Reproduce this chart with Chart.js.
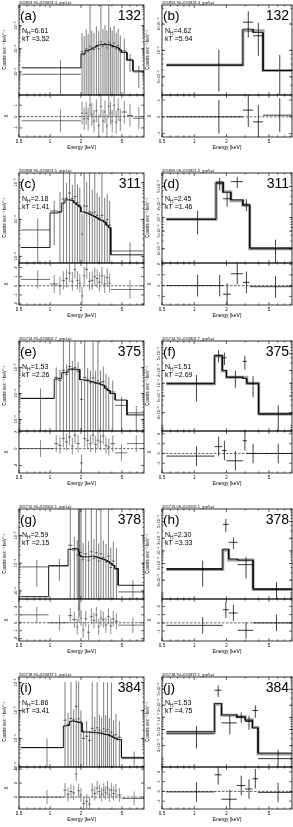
<!DOCTYPE html>
<html><head><meta charset="utf-8">
<script src="https://cdn.jsdelivr.net/npm/chart.js@4/dist/chart.umd.min.js"></script>
<style>
html,body{margin:0;padding:0;background:#fff;}
body{width:293px;height:827px;position:relative;overflow:hidden;}
canvas{position:absolute;}
</style></head><body>
<script>
// ---------- shared axis data ----------
const xTickValues = [0.5, 1, 2, 5];
const xTickLabels = ['0.5', '1', '2', '5'];
const xMinorValues = [0.6, 0.7, 0.8, 0.9, 3, 4, 6, 7, 8];

const panelLetters = ['(a)','(b)','(c)','(d)','(e)','(f)','(g)','(h)','(i)','(j)'];
const sourceIds   = ['132','132','311','311','375','375','378','378','384','384'];
const nhValues    = ['6.61','4.62','2.18','2.45','1.53','1.51','2.59','2.30','1.86','1.53'];
const ktValues    = ['3.52','5.94','1.41','1.46','2.26','2.69','2.15','3.33','3.41','4.75'];
const fileNames   = ['205853.30+620824.4_grp1.pi','205853.30+620824.4_grp5.pi',
                     '205858.96+620821.5_grp1.pi','205859.08+620821.5_grp5.pi',
                     '205714.93+620802.7_grp1.pi','205714.92+620802.7_grp5.pi',
                     '205715.30+620505.1_grp1.pi','205715.08+620505.1_grp5.pi',
                     '205718.94+620837.1_grp1.pi','205718.94+620837.1_grp5.pi'];

// ---------- (a) pn, 132 ----------
const aEdges = [0.53, 2.0, 2.1, 2.2, 2.3, 2.4, 2.5, 2.6, 2.75, 2.9, 3.05, 3.2, 3.35, 3.5, 3.65, 3.8, 3.95, 4.1, 4.3, 4.5, 4.7, 4.95, 5.6, 6.4, 8.2];
const aRate  = [7.9e-6, 7.5e-5, 5.5e-5, 1.0e-4, 7.5e-5, 1.3e-4, 1.1e-4, 9e-5, 1.4e-4, 1.0e-4, 2.0e-4, 1.3e-4, 1.7e-4, 1.1e-4, 1.9e-4, 1.6e-4, 1.2e-4, 1.8e-4, 1.0e-4, 1.4e-4, 8e-5, 8e-5, 3.5e-5, 1.0e-5];
const aErr   = [2.4e-5, 4e-4, 3e-4, 6e-4, 3.5e-4, 1e-2, 5e-4, 4e-4, 8e-4, 5e-4, 1e-2, 6e-4, 9e-4, 5e-4, 1e-2, 7e-4, 5e-4, 8e-4, 4e-4, 6e-4, 3e-4, 2e-4, 2.5e-5, 8e-6];
const aModel = [1.5e-5, 6.0e-5, 6.2e-5, 8.5e-5, 8.7e-5, 9.2e-5, 1.0e-4, 1.1e-4, 1.25e-4, 1.45e-4, 1.5e-4, 1.55e-4, 1.55e-4, 1.5e-4, 1.5e-4, 1.45e-4, 1.4e-4, 1.25e-4, 1.2e-4, 1.1e-4, 9.0e-5, 7.0e-5, 3.2e-5, 1.1e-5];
const aChi   = [-0.37, 0.3, -0.2, 0.3, -0.2, 1.0, 0.2, -0.4, 0.5, -0.8, 0.9, -0.4, 0.4, -0.8, 0.9, 0.3, -0.4, 1.0, -0.5, 0.6, -0.3, 0.4, 0.1, -0.15];
const aYTicks = [1e-5, 1e-4, 1e-3];
const aRTicks = [-1, 0, 1];

// ---------- (b) MOS, 132 ----------
const bEdges  = [0.55, 2.85, 3.55, 4.4, 8.2];
const bRate   = [6.8e-5, 2.1e-4, 1.47e-4, 5.9e-5];
const bErr    = [3.4e-5, 7e-5, 6e-5, 3e-5];
const bModel1 = [6.8e-5, 1.68e-4, 1.68e-4, 5.9e-5];
const bModel2 = [6.8e-5, 1.75e-4, 1.6e-4, 5.9e-5];
const bChi    = [0.0, 0.4, -0.3, 0.1];
const bYTicks = [5e-5, 1e-4, 2e-4];
const bRTicks = [-1, 0, 1];

// ---------- (c) pn, 311 ----------
const cEdges = [0.52, 1.0, 1.2, 1.3, 1.4, 1.5, 1.6, 1.7, 1.8, 1.9, 2.0, 2.1, 2.2, 2.35, 2.5, 2.65, 2.8, 2.95, 3.1, 3.3, 3.5, 3.7, 3.9, 8.1];
const cRate  = [5.2e-5, 1.7e-4, 1.6e-4, 3.6e-4, 3.8e-4, 5.2e-4, 3.7e-4, 4.2e-4, 2.9e-4, 2.4e-4, 4.0e-5, 2.3e-4, 2.3e-4, 1.6e-4, 1.5e-4, 1.6e-4, 1.3e-4, 1.1e-4, 1.3e-4, 9e-5, 1.0e-4, 7e-5, 1.4e-5];
const cErr   = [5.5e-5, 1.5e-4, 4e-4, 1e-2, 6e-4, 1e-2, 5e-4, 1e-2, 6e-4, 5e-4, 1e-4, 1e-2, 8e-4, 1e-2, 5e-4, 1e-2, 4e-4, 3e-4, 1e-2, 3e-4, 4e-4, 2.5e-4, 1e-5];
const cModel = [1.74e-5, 1.5e-4, 1.6e-4, 2.8e-4, 3.4e-4, 3.4e-4, 3.3e-4, 2.8e-4, 2.5e-4, 2.2e-4, 1.6e-4, 1.6e-4, 1.5e-4, 1.4e-4, 1.3e-4, 1.2e-4, 1.1e-4, 1.0e-4, 9.5e-5, 8.5e-5, 7e-5, 6e-5, 1.1e-5];
const cChi   = [0.7, 0.2, 0.0, 0.6, 0.8, 1.4, 0.5, 1.8, 0.6, 0.3, -1.1, 1.1, 1.8, 0.5, 0.6, 1.0, 0.8, 0.4, 1.1, 0.2, 0.9, 0.3, -0.4];
const cYTicks = [1e-5, 1e-4, 1e-3];
const cRTicks = [-2, -1, 0, 1, 2];

// ---------- (d) MOS, 311 ----------
const dEdges  = [0.55, 1.6, 1.86, 2.2, 2.85, 3.3, 8.2];
const dRate   = [9.2e-5, 5.9e-4, 2.65e-4, 6.4e-4, 2.0e-4, 2.0e-5];
const dErr    = [5e-5, 1.8e-4, 9e-5, 1.8e-4, 6e-5, 1.2e-5];
const dModel1 = [9.2e-5, 5.9e-4, 3.8e-4, 2.4e-4, 1.86e-4, 2.0e-5];
const dModel2 = [9.2e-5, 6.3e-4, 3.7e-4, 2.5e-4, 1.9e-4, 2.1e-5];
const dChi    = [0.0, 0.0, -0.8, 1.1, 0.3, -0.1];
const dYTicks = [2e-5, 5e-5, 1e-4, 2e-4, 5e-4];
const dRTicks = [-1, 0, 1, 2];

// ---------- (e) pn, 375 ----------
const eEdges = [0.52, 1.1, 1.2, 1.3, 1.4, 1.5, 1.6, 1.7, 1.8, 1.95, 2.1, 2.25, 2.4, 2.55, 2.7, 2.85, 3.0, 3.2, 3.4, 3.6, 3.85, 4.3, 5.6, 8.2];
const eRate  = [6.5e-5, 4.2e-4, 3.2e-4, 7.8e-4, 5.5e-4, 1.1e-3, 8.2e-4, 1.0e-3, 7.2e-4, 6e-5, 4.2e-4, 3.6e-4, 2.6e-4, 4.0e-4, 2.4e-4, 3.1e-4, 2.7e-4, 2.9e-4, 1.8e-4, 1.35e-4, 1.15e-4, 3.5e-5, 1.8e-5];
const eErr   = [9e-5, 6e-4, 5e-4, 1e-2, 8e-4, 1e-2, 1e-3, 1e-2, 9e-4, 2.5e-4, 1e-2, 6e-4, 5e-4, 1e-2, 5e-4, 1e-2, 5e-4, 8e-4, 4e-4, 3e-4, 2e-4, 4e-5, 1.5e-5];
const eModel = [6.5e-5, 3.6e-4, 3.8e-4, 6.4e-4, 6.6e-4, 8.7e-4, 8.9e-4, 8.7e-4, 8.5e-4, 3.4e-4, 3.3e-4, 3.1e-4, 3.0e-4, 2.8e-4, 2.6e-4, 2.5e-4, 2.3e-4, 2.1e-4, 1.6e-4, 1.3e-4, 1.0e-4, 5.6e-5, 1.5e-5];
const eChi   = [0.0, 0.6, 0.4, 1.2, 0.8, 1.4, 0.3, 1.6, 0.6, -1.7, 1.2, 1.0, 0.6, 1.6, 0.5, 1.0, 0.8, 1.5, 0.4, 0.2, 0.6, -0.5, 0.6];
const eYTicks = [1e-5, 1e-4, 1e-3];
const eRTicks = [-2, 0, 2];

// ---------- (f) MOS, 375 ----------
const fEdges  = [0.55, 1.55, 1.83, 2.0, 2.85, 3.1, 4.0, 8.2];
const fRate   = [9.7e-5, 4.6e-4, 4.0e-4, 1.38e-4, 3.3e-4, 9.7e-5, 1.8e-5];
const fErr    = [6e-5, 1.5e-4, 1.3e-4, 6e-5, 1.2e-4, 5e-5, 1.2e-5];
const fModel1 = [9.7e-5, 4.35e-4, 1.96e-4, 1.38e-4, 1.38e-4, 1.0e-4, 1.9e-5];
const fModel2 = [1.0e-4, 4.5e-4, 2.0e-4, 1.4e-4, 1.3e-4, 1.0e-4, 1.9e-5];
const fChi    = [-0.27, 0.7, 0.3, -0.75, 1.3, 0.0, 0.0];
const fYTicks = [2e-5, 5e-5, 1e-4, 2e-4, 5e-4];
const fRTicks = [-1, 0, 1, 2];

// ---------- (g) pn, 378 ----------
const gEdges = [0.52, 0.97, 1.5, 1.65, 1.8, 1.88, 1.9, 1.92, 1.94, 1.96, 2.05, 2.15, 2.3, 2.45, 2.6, 2.75, 2.9, 3.05, 3.2, 3.4, 3.6, 3.8, 4.0, 4.25, 4.6, 8.2];
const gRate  = [7.4e-5, 8.3e-5, 4.5e-4, 3.0e-4, 2.0e-4, 6e-4, 1.2e-4, 8e-4, 3e-4, 2.5e-4, 1.4e-4, 2.2e-4, 1.3e-4, 2.6e-4, 1.5e-4, 2.4e-4, 1.2e-4, 2.2e-4, 1.6e-4, 1.1e-4, 1.8e-4, 7e-5, 1.2e-4, 6e-5, 9.2e-6];
const gErr   = [6e-5, 6e-5, 1e-2, 6e-4, 5e-4, 1e-2, 1e-2, 1e-2, 1e-2, 1e-2, 4e-4, 1e-2, 5e-4, 1e-2, 6e-4, 1e-2, 4e-4, 1e-2, 5e-4, 4e-4, 1e-2, 3e-4, 5e-4, 3e-4, 1.5e-5];
const gModel = [6.2e-6, 8e-5, 3.2e-4, 3.4e-4, 3.3e-4, 3.0e-4, 2.6e-4, 2.3e-4, 2.0e-4, 1.8e-4, 1.7e-4, 1.7e-4, 1.7e-4, 1.8e-4, 1.8e-4, 1.7e-4, 1.6e-4, 1.5e-4, 1.4e-4, 1.3e-4, 1.15e-4, 1.0e-4, 8.5e-5, 6.5e-5, 1.6e-5];
const gChi   = [1.0, 0.0, 0.9, 0.4, -0.5, 2.5, 1.0, 2.8, 1.8, 0.6, -0.9, 0.5, -1.2, 0.8, 0.3, 1.0, -0.5, 0.6, 0.4, -0.3, 0.8, -0.4, 0.5, 0.2, -0.3];
const gYTicks = [1e-5, 1e-4, 1e-3];
const gRTicks = [-2, -1, 0, 1, 2];

// ---------- (h) MOS, 378 ----------
const hEdges  = [0.55, 1.85, 2.1, 2.55, 3.55, 8.2];
const hRate   = [3.6e-5, 4.3e-4, 1.6e-4, 4.7e-5, 1.2e-5];
const hErr    = [2.2e-5, 1.5e-4, 5e-5, 2.5e-5, 6e-6];
const hModel1 = [3.6e-5, 1.04e-4, 6.1e-5, 6.1e-5, 1.2e-5];
const hModel2 = [3.8e-5, 1.1e-4, 6.4e-5, 6.0e-5, 1.25e-5];
const hChi    = [-0.3, 1.6, 1.2, -0.9, 0.0];
const hYTicks = [2e-5, 5e-5, 1e-4, 2e-4, 5e-4];
const hRTicks = [-1, 0, 1, 2];

// ---------- (i) pn, 384 ----------
const iEdges = [0.52, 1.35, 1.45, 1.55, 1.65, 1.75, 1.85, 1.95, 2.05, 2.2, 2.35, 2.5, 2.65, 2.8, 2.95, 3.1, 3.25, 3.4, 3.55, 3.7, 3.85, 4.05, 4.25, 4.5, 4.95, 8.2];
const iRate  = [4.7e-5, 4.5e-4, 3.2e-4, 5.2e-4, 4.6e-4, 1.4e-3, 5.0e-4, 4.0e-4, 1.0e-4, 1.2e-4, 8.5e-5, 2.3e-4, 1.9e-4, 2.4e-4, 2.0e-4, 1.7e-4, 2.2e-4, 1.8e-4, 2.1e-4, 1.4e-4, 1.7e-4, 1.3e-4, 1.4e-4, 1.1e-4, 1.9e-5];
const iErr   = [5.3e-5, 1e-2, 5e-4, 1e-2, 6e-4, 1e-2, 1e-2, 6e-4, 1e-4, 3e-4, 1e-4, 1e-2, 4e-4, 1e-2, 5e-4, 4e-4, 1e-2, 5e-4, 1e-2, 4e-4, 1e-2, 3e-4, 6e-4, 3e-4, 1.5e-5];
const iModel = [4.7e-5, 2.8e-4, 2.9e-4, 4.1e-4, 4.2e-4, 4.0e-4, 3.8e-4, 3.6e-4, 1.7e-4, 1.7e-4, 1.7e-4, 1.65e-4, 1.6e-4, 1.6e-4, 1.55e-4, 1.5e-4, 1.45e-4, 1.4e-4, 1.35e-4, 1.3e-4, 1.2e-4, 1.1e-4, 1.0e-4, 9e-5, 2.1e-5];
const iChi   = [0.0, 1.0, 0.4, 0.8, 0.6, 3.3, 0.9, 0.3, -0.9, -0.6, -1.0, 1.0, 0.5, 1.3, 0.8, 0.4, 1.0, 0.6, 1.3, 0.3, 1.0, 0.5, 0.9, 0.3, -0.2];
const iYTicks = [1e-5, 1e-4, 1e-3, 1e-2];
const iRTicks = [0, 2, 4];

// ---------- (j) MOS, 384 ----------
const jEdges  = [0.55, 1.55, 1.8, 2.5, 3.0, 3.5, 3.95, 8.2];
const jRate   = [3.9e-5, 4.7e-4, 7.3e-5, 1.04e-4, 7.9e-5, 1.48e-4, 9.5e-6];
const jErr    = [2.2e-5, 1.5e-4, 3.5e-5, 3e-5, 3e-5, 5e-5, 6e-6];
const jModel1 = [4.3e-5, 2.1e-4, 1.13e-4, 1.04e-4, 8.7e-5, 5.6e-5, 1.24e-5];
const jModel2 = [4.4e-5, 2.2e-4, 1.15e-4, 1.0e-4, 8.5e-5, 5.5e-5, 1.3e-5];
const jChi    = [-0.05, 1.7, -0.8, 0.6, 0.25, 1.3, -0.1];
const jYTicks = [2e-5, 5e-5, 1e-4, 2e-4, 5e-4];
const jRTicks = [-1, 0, 1, 2];

// ---------- panel table (axis ranges per panel) ----------
const panels = [
  {edges:aEdges, rate:aRate, err:aErr, model:aModel, chi:aChi, yMin:1.0e-6, yMax:7.9e-3, yTicks:aYTicks, rMin:-1.8, rMax:1.9, rTicks:aRTicks},
  {edges:bEdges, rate:bRate, err:bErr, model:bModel1, model2:bModel2, chi:bChi, yMin:3.1e-5, yMax:3.3e-4, yTicks:bYTicks, rMin:-1.2, rMax:1.3, rTicks:bRTicks},
  {edges:cEdges, rate:cRate, err:cErr, model:cModel, chi:cChi, yMin:6.6e-6, yMax:1.82e-3, yTicks:cYTicks, rMin:-2.1, rMax:2.5, rTicks:cRTicks},
  {edges:dEdges, rate:dRate, err:dErr, model:dModel1, model2:dModel2, chi:dChi, yMin:9.6e-6, yMax:1.0e-3, yTicks:dYTicks, rMin:-1.8, rMax:2.1, rTicks:dRTicks},
  {edges:eEdges, rate:eRate, err:eErr, model:eModel, chi:eChi, yMin:3.6e-6, yMax:1.06e-2, yTicks:eYTicks, rMin:-2.9, rMax:2.1, rTicks:eRTicks},
  {edges:fEdges, rate:fRate, err:fErr, model:fModel1, model2:fModel2, chi:fChi, yMin:7.4e-6, yMax:1.0e-3, yTicks:fYTicks, rMin:-2.0, rMax:2.3, rTicks:fRTicks},
  {edges:gEdges, rate:gRate, err:gErr, model:gModel, chi:gChi, yMin:5.1e-6, yMax:9.2e-3, yTicks:gYTicks, rMin:-2.3, rMax:3.0, rTicks:gRTicks},
  {edges:hEdges, rate:hRate, err:hErr, model:hModel1, model2:hModel2, chi:hChi, yMin:7.1e-6, yMax:1.0e-3, yTicks:hYTicks, rMin:-2.2, rMax:2.9, rTicks:hRTicks},
  {edges:iEdges, rate:iRate, err:iErr, model:iModel, chi:iChi, yMin:9.5e-6, yMax:1.58e-2, yTicks:iYTicks, rMin:-1.7, rMax:4.3, rTicks:iRTicks},
  {edges:jEdges, rate:jRate, err:jErr, model:jModel1, model2:jModel2, chi:jChi, yMin:5.9e-6, yMax:1.0e-3, yTicks:jYTicks, rMin:-1.8, rMax:2.5, rTicks:jRTicks}
];

// ---------- helpers ----------
const FONT = "'Liberation Sans', Arial, 'DejaVu Sans', sans-serif";
const X_MIN = 0.5, X_MAX = 8.2;
Chart.defaults.font.family = FONT;
Chart.defaults.color = '#000';

const SUP = {'-':'⁻','0':'⁰','1':'¹','2':'²','3':'³','4':'⁴','5':'⁵','6':'⁶','7':'⁷','8':'⁸','9':'⁹'};
function fmtPow(v) {
  const e = Math.floor(Math.log10(v) + 1e-9);
  const m = Math.round(v / Math.pow(10, e));
  const ex = String(e).split('').map(ch => SUP[ch]).join('');
  return (m === 1 ? '' : m + '×') + '10' + ex;
}
function stepPts(edges, vals) {
  const p = [];
  vals.forEach((v, i) => { p.push({x: edges[i], y: v}, {x: edges[i + 1], y: v}); });
  return p;
}
function hPts(edges, vals) {
  const p = [];
  vals.forEach((v, i) => { p.push({x: edges[i], y: v}, {x: edges[i + 1], y: v}, {x: edges[i + 1], y: null}); });
  return p;
}
function vPts(centers, vals, errs, lo, hi) {
  const p = [];
  vals.forEach((v, i) => {
    const a = Math.max(v - errs[i], lo), b = Math.min(v + errs[i], hi);
    p.push({x: centers[i], y: a}, {x: centers[i], y: b}, {x: centers[i], y: null});
  });
  return p;
}
function ds(data, axis, color, width, dash) {
  return {data, yAxisID: axis, borderColor: color, borderWidth: width, borderDash: dash || [],
          pointRadius: 0, fill: false, tension: 0, spanGaps: false};
}

function overlay(P, idx) {
  return {
    id: 'overlay' + idx,
    afterDraw(chart) {
      const c = chart.ctx, ca = chart.chartArea, xs = chart.scales.x, ys = chart.scales.y, rs = chart.scales.yr;
      c.save();
      c.strokeStyle = '#000';
      c.lineWidth = 0.8;
      for (const s of [ys, rs]) c.strokeRect(ca.left, s.top, ca.right - ca.left, s.bottom - s.top);
      c.lineWidth = 0.6;
      c.beginPath();
      const tk = (x1, y1, x2, y2) => { c.moveTo(x1, y1); c.lineTo(x2, y2); };
      for (const s of [ys, rs]) {
        xTickValues.forEach(v => { const px = xs.getPixelForValue(v); tk(px, s.top, px, s.top + 3); tk(px, s.bottom, px, s.bottom - 3); });
        xMinorValues.forEach(v => { const px = xs.getPixelForValue(v); tk(px, s.top, px, s.top + 1.6); tk(px, s.bottom, px, s.bottom - 1.6); });
      }
      P.yTicks.forEach(v => { const py = ys.getPixelForValue(v); tk(ca.left, py, ca.left + 3, py); tk(ca.right, py, ca.right - 3, py); });
      const d0 = Math.floor(Math.log10(P.yMin)), d1 = Math.ceil(Math.log10(P.yMax));
      for (let d = d0; d <= d1; d++) for (let k = 1; k < 10; k++) {
        const v = k * Math.pow(10, d);
        if (v < P.yMin || v > P.yMax) continue;
        const py = ys.getPixelForValue(v);
        tk(ca.left, py, ca.left + 1.6, py); tk(ca.right, py, ca.right - 1.6, py);
      }
      P.rTicks.forEach(v => { const py = rs.getPixelForValue(v); tk(ca.left, py, ca.left + 3, py); tk(ca.right, py, ca.right - 3, py); });
      c.stroke();

      // rotated tick labels
      c.fillStyle = '#000';
      c.font = '4px ' + FONT;
      c.textAlign = 'center';
      c.textBaseline = 'bottom';
      P.yTicks.forEach(v => {
        const py = ys.getPixelForValue(v);
        c.save(); c.translate(ca.left - 1.5, py); c.rotate(-Math.PI / 2); c.fillText(fmtPow(v), 0, 0); c.restore();
      });
      P.rTicks.forEach(v => {
        const py = rs.getPixelForValue(v);
        c.save(); c.translate(ca.left - 1.5, py); c.rotate(-Math.PI / 2); c.fillText(String(v), 0, 0); c.restore();
      });

      // panel texts
      c.textBaseline = 'alphabetic';
      c.textAlign = 'left';
      c.font = '4px ' + FONT;
      c.fillText(fileNames[idx], ca.left, ca.top - 1);
      c.font = '13.5px ' + FONT;
      c.fillText(panelLetters[idx], ca.left + 1, ca.top + 15);
      c.textAlign = 'right';
      c.font = '14px ' + FONT;
      c.fillText(sourceIds[idx], ca.right - 3, ca.top + 15);
      c.textAlign = 'left';
      const x0 = ca.left + 3, y0 = ca.top + 28;
      c.font = '7px ' + FONT;
      c.fillText('N', x0, y0);
      const w1 = c.measureText('N').width;
      c.font = '5px ' + FONT;
      c.fillText('H', x0 + w1, y0 + 1.5);
      const w2 = c.measureText('H').width;
      c.font = '7px ' + FONT;
      c.fillText('=' + nhValues[idx], x0 + w1 + w2, y0);
      c.fillText('kT =' + ktValues[idx], x0, ca.top + 36);
      c.restore();
    }
  };
}

function buildPanel(P, idx) {
  const col = idx % 2, row = Math.floor(idx / 2);
  const W = col === 0 ? 146 : 150, H = 152;
  const canvas = document.createElement('canvas');
  canvas.width = W; canvas.height = H;
  canvas.style.left = (col === 0 ? 0 : 143) + 'px';
  canvas.style.top = (row * 168) + 'px';
  canvas.style.width = W + 'px'; canvas.style.height = H + 'px';
  document.body.appendChild(canvas);

  const centers = P.rate.map((_, i) => (P.edges[i] + P.edges[i + 1]) / 2);
  const ones = P.chi.map(() => 1);
  const sets = [];
  if (P.model2) {
    sets.push(ds(stepPts(P.edges, P.model2), 'y', '#000', 0.8));
    sets.push(ds(hPts(P.edges, P.rate), 'y', '#000', 0.8));
    sets.push(ds(vPts(centers, P.rate, P.err, P.yMin, P.yMax), 'y', '#111', 0.8));
    sets.push(ds(hPts(P.edges, P.chi), 'yr', '#000', 0.8));
    sets.push(ds(vPts(centers, P.chi, ones, P.rMin, P.rMax), 'yr', '#111', 0.8));
    sets.push(ds([{x: X_MIN, y: 0}, {x: X_MAX, y: 0}], 'yr', '#222', 0.7, [2.5, 1.5]));
    sets.push(ds(stepPts(P.edges, P.model), 'y', '#a0a0a0', 3));
  } else {
    sets.push(ds(stepPts(P.edges, P.model), 'y', '#000', 0.9));
    sets.push(ds(hPts(P.edges, P.rate), 'y', '#222', 0.7));
    sets.push(ds(hPts(P.edges, P.chi), 'yr', '#333', 0.7));
    sets.push(ds(vPts(centers, P.chi, ones, P.rMin, P.rMax), 'yr', '#666', 0.75));
    sets.push(ds([{x: X_MIN, y: 0}, {x: X_MAX, y: 0}], 'yr', '#222', 0.7, [2.5, 1.5]));
    sets.push(ds(vPts(centers, P.rate, P.err, P.yMin, P.yMax), 'y', '#6e6e6e', 0.9));
  }

  new Chart(canvas, {
    type: 'line',
    data: {datasets: sets},
    options: {
      responsive: false, animation: false, devicePixelRatio: 1, events: [],
      layout: {padding: {top: 5, right: col === 0 ? 2 : 1, left: 0, bottom: 0}},
      plugins: {legend: {display: false}, tooltip: {enabled: false}, title: {display: false}},
      scales: {
        x: {
          type: 'logarithmic', position: 'bottom', min: X_MIN, max: X_MAX,
          afterBuildTicks: s => { s.ticks = xTickValues.map(v => ({value: v})); },
          ticks: {callback: (v, i) => xTickLabels[i], font: {size: 4.5}, color: '#000', padding: 2.5, maxRotation: 0, autoSkip: false},
          grid: {display: false, drawTicks: false}, border: {display: false},
          title: {display: true, text: 'Energy [keV]', font: {size: 5}, color: '#000', padding: {top: 0, bottom: 1}},
          afterFit: s => { s.height = 15; }
        },
        yr: {
          axis: 'y', type: 'linear', position: 'left', stack: 'panel', stackWeight: 42,
          min: P.rMin, max: P.rMax,
          afterBuildTicks: s => { s.ticks = P.rTicks.map(v => ({value: v})); },
          ticks: {display: false}, grid: {display: false, drawTicks: false}, border: {display: false},
          title: {display: true, text: 'χ', font: {size: 5.5}, color: '#000', padding: {top: 2, bottom: 0}},
          afterFit: s => { s.width = 19; }
        },
        y: {
          axis: 'y', type: 'logarithmic', position: 'left', stack: 'panel', stackWeight: 90,
          min: P.yMin, max: P.yMax,
          afterBuildTicks: s => { s.ticks = P.yTicks.map(v => ({value: v})); },
          ticks: {display: false}, grid: {display: false, drawTicks: false}, border: {display: false},
          title: {display: true, text: 'Counts sec⁻¹ keV⁻¹', font: {size: 4.5}, color: '#000', padding: {top: 2, bottom: 0}},
          afterFit: s => { s.width = 19; }
        }
      }
    },
    plugins: [overlay(P, idx)]
  });
}

panels.forEach(buildPanel);
</script>
</body></html>
